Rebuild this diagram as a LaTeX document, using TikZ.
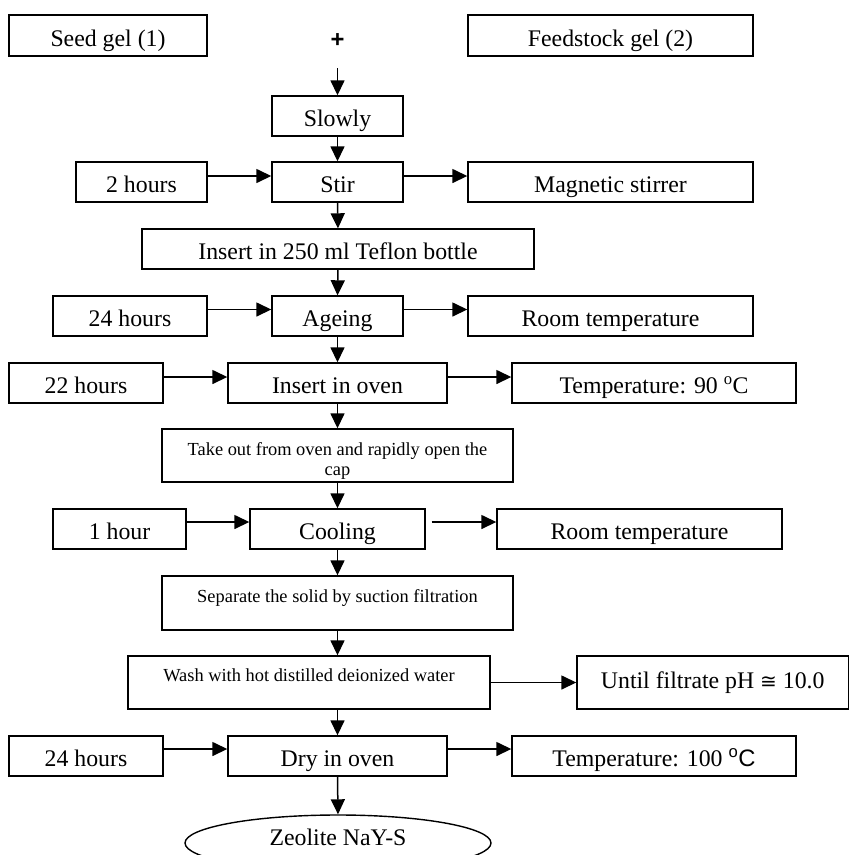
\documentclass[tikz,border=0pt]{standalone}
\usepackage{fontspec}
\setmainfont{Liberation Serif}
\setsansfont{Liberation Sans}
\newfontfamily\symfont{DejaVu Sans}
\usetikzlibrary{arrows.meta,shapes.geometric}
\newcommand{\mainfs}{\fontsize{23.8pt}{28pt}\selectfont}
\newcommand{\smallfs}{\fontsize{18.4pt}{19.5pt}\selectfont}
\begin{document}
\begin{tikzpicture}[x=1pt,y=-1pt,
  box/.style={draw, line width=1.4pt, inner sep=0pt, text height=21pt, text depth=0pt, font=\mainfs},
  sbox/.style={draw, line width=1.4pt, inner sep=0pt, font=\smallfs},
  arr/.style={line width=1.5pt, -{Triangle[length=15pt,width=14pt]}},
]
\fill[white] (0,0) rectangle (850,855);
\useasboundingbox (0,0) rectangle (850,855);

% top row
\node[box, minimum width=198pt, minimum height=41pt] (seed) at (108,35.5) {Seed gel (1)};
\node[box, minimum width=285pt, minimum height=41pt] (feed) at (610.5,35.5) {Feedstock gel (2)};
\node[font=\mainfs\sffamily\bfseries, inner sep=0pt] (plus) at (337.5,41) {+};
\coordinate (pstart) at (337.5,68);

\node[box, minimum width=131pt, minimum height=40pt] (slowly) at (337.5,116) {Slowly};

\node[box, minimum width=131pt, minimum height=40pt] (stir) at (337.5,182) {Stir};
\node[box, minimum width=131pt, minimum height=40pt] (two) at (141.5,182) {2 hours};
\node[box, minimum width=285pt, minimum height=40pt] (mag) at (610.5,182) {Magnetic stirrer};

\node[box, minimum width=392pt, minimum height=40pt] (teflon) at (338,249) {Insert in 250 ml Teflon bottle};

\node[box, minimum width=131pt, minimum height=40pt] (ageing) at (337.5,316) {Ageing};
\node[box, minimum width=154pt, minimum height=40pt] (hA) at (130,316) {24 hours};
\node[box, minimum width=285pt, minimum height=40pt] (roomA) at (610.5,316) {Room temperature};

\node[box, minimum width=219pt, minimum height=40pt] (oven) at (337.5,383) {Insert in oven};
\node[box, minimum width=154pt, minimum height=40pt] (hB) at (86,383) {22 hours};
\node[box, minimum width=284pt, minimum height=40pt] (tA) at (654,383) {Temperature: 90 \textsuperscript{o}C};

\node[sbox] (take) at (337.5,455.5) {\parbox[c][53pt][t]{351pt}{\centering\rule{0pt}{26.5pt}Take out from oven and rapidly open the\\cap}};

\node[box, minimum width=175pt, minimum height=40pt] (cool) at (337.5,529) {Cooling};
\node[box, minimum width=133pt, minimum height=40pt] (hC) at (119.5,529) {1 hour};
\node[box, minimum width=285pt, minimum height=40pt] (roomB) at (639.5,529) {Room temperature};

\node[sbox, minimum width=351pt, minimum height=54pt, text height=12pt, text depth=14pt] (sep) at (337.5,603) {Separate the solid by suction filtration};

\node[sbox, minimum width=362pt, minimum height=53pt, text height=12pt, text depth=15pt] (wash) at (309,682.5) {Wash with hot distilled deionized water};
\node[box, minimum width=271.5pt, minimum height=53pt, text height=16pt, text depth=5pt] (until) at (712.75,682.5) {Until filtrate pH {\symfont\fontsize{20pt}{24pt}\selectfont ≅} 10.0};

\node[box, minimum width=219pt, minimum height=40pt] (dry) at (337.5,756) {Dry in oven};
\node[box, minimum width=154pt, minimum height=40pt] (hD) at (86,756) {24 hours};
\node[box, minimum width=284pt, minimum height=40pt] (tB) at (654,756) {Temperature: 100 \textsf{\textsuperscript{o}C}};

\node[ellipse, draw, line width=1.4pt, minimum width=306pt, minimum height=56pt, inner sep=0pt, text height=14pt, text depth=10pt, font=\mainfs] (zeo) at (338,843) {Zeolite NaY-S};

% connectors
\draw[arr] (pstart) -- (slowly.north);
\draw[arr] (slowly.south) -- (stir.north);
\draw[arr] ([yshift=6pt]two.east) -- ([yshift=6pt]stir.west);
\draw[arr] ([yshift=6pt]stir.east) -- ([yshift=6pt]mag.west);
\draw[arr] (stir.south) -- (teflon.north);
\draw[arr] (teflon.south) -- (ageing.north);
\draw[arr] ([yshift=6.5pt]hA.east) -- ([yshift=6.5pt]ageing.west);
\draw[arr] ([yshift=6.5pt]ageing.east) -- ([yshift=6.5pt]roomA.west);
\draw[arr] (ageing.south) -- (oven.north);
\draw[arr] ([yshift=6pt]hB.east) -- ([yshift=6pt]oven.west);
\draw[arr] ([yshift=6pt]oven.east) -- ([yshift=6pt]tA.west);
\draw[arr] (oven.south) -- (take.north);
\draw[arr] (take.south) -- (cool.north);
\draw[arr] ([yshift=7pt]hC.east) -- ([yshift=7pt]cool.west);
\draw[arr, shorten <=6pt] ([yshift=7pt]cool.east) -- ([yshift=7pt]roomB.west);
\draw[arr] (cool.south) -- (sep.north);
\draw[arr] (sep.south) -- (sep.south |- wash.north);
\draw[arr] (wash.east) -- (until.west);
\draw[arr] (dry.north |- wash.south) -- (dry.north);
\draw[arr] ([yshift=7pt]hD.east) -- ([yshift=7pt]dry.west);
\draw[arr] ([yshift=7pt]dry.east) -- ([yshift=7pt]tB.west);
\draw[arr] (dry.south) -- (zeo.north);
\end{tikzpicture}
\end{document}
